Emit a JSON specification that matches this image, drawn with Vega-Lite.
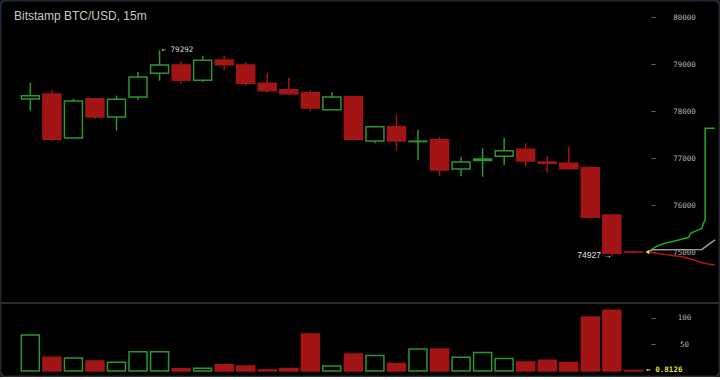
{
  "$schema": "https://vega.github.io/schema/vega-lite/v6.json",
  "width": 720,
  "height": 377,
  "autosize": {"type": "none"},
  "padding": 0,
  "background": "#000000",
  "config": {
    "view": {"stroke": "#232733", "strokeWidth": 3, "cornerRadius": 6, "fill": "#000000"}
  },
  "title": {
    "text": "Bitstamp BTC/USD, 15m",
    "anchor": "start",
    "frame": "group",
    "offset": -23,
    "dx": 14,
    "font": "Liberation Sans",
    "fontSize": 12,
    "fontWeight": "normal",
    "color": "#c8c8c8"
  },
  "datasets": {
    "candles": [
      {"i": 1, "o": 78255, "c": 78326, "h": 78602, "l": 78006, "v": 67.5},
      {"i": 2, "o": 78362, "c": 77398, "h": 78447, "l": 77380, "v": 25.7},
      {"i": 3, "o": 77426, "c": 78213, "h": 78262, "l": 77420, "v": 24.4},
      {"i": 4, "o": 78262, "c": 77872, "h": 78270, "l": 77823, "v": 18.8},
      {"i": 5, "o": 77872, "c": 78249, "h": 78326, "l": 77581, "v": 16.3},
      {"i": 6, "o": 78298, "c": 78723, "h": 78830, "l": 78240, "v": 36.2},
      {"i": 7, "o": 78802, "c": 78979, "h": 79292, "l": 78645, "v": 36.2},
      {"i": 8, "o": 78979, "c": 78653, "h": 79064, "l": 78581, "v": 3.8},
      {"i": 9, "o": 78653, "c": 79079, "h": 79170, "l": 78617, "v": 5.0},
      {"i": 10, "o": 79085, "c": 78985, "h": 79170, "l": 78866, "v": 11.3},
      {"i": 11, "o": 78979, "c": 78589, "h": 79043, "l": 78538, "v": 9.4},
      {"i": 12, "o": 78589, "c": 78432, "h": 78809, "l": 78389, "v": 1.9},
      {"i": 13, "o": 78453, "c": 78368, "h": 78709, "l": 78334, "v": 4.4},
      {"i": 14, "o": 78389, "c": 78064, "h": 78447, "l": 77994, "v": 69.4},
      {"i": 15, "o": 78028, "c": 78298, "h": 78404, "l": 78020, "v": 9.4},
      {"i": 16, "o": 78304, "c": 77398, "h": 78320, "l": 77390, "v": 31.9},
      {"i": 17, "o": 77362, "c": 77666, "h": 77680, "l": 77313, "v": 28.7},
      {"i": 18, "o": 77666, "c": 77362, "h": 77921, "l": 77155, "v": 13.7},
      {"i": 19, "o": 77350, "c": 77358, "h": 77596, "l": 76951, "v": 41.3},
      {"i": 20, "o": 77389, "c": 76745, "h": 77453, "l": 76617, "v": 41.3},
      {"i": 21, "o": 76766, "c": 76915, "h": 77021, "l": 76611, "v": 25.7},
      {"i": 22, "o": 76945, "c": 76980, "h": 77206, "l": 76602, "v": 34.4},
      {"i": 23, "o": 77036, "c": 77155, "h": 77426, "l": 76851, "v": 23.1},
      {"i": 24, "o": 77185, "c": 76936, "h": 77313, "l": 76815, "v": 16.9},
      {"i": 25, "o": 76915, "c": 76887, "h": 77049, "l": 76687, "v": 20.0},
      {"i": 26, "o": 76887, "c": 76772, "h": 77228, "l": 76760, "v": 15.6},
      {"i": 27, "o": 76794, "c": 75738, "h": 76830, "l": 75696, "v": 101.3},
      {"i": 28, "o": 75787, "c": 74972, "h": 75809, "l": 74927, "v": 113.8},
      {"i": 29, "o": 75000, "c": 74995, "h": 75028, "l": 74990, "v": 0.8126}
    ],
    "depth": [
      {"s": "bid", "k": 1, "i": 29.72, "p": 75000},
      {"s": "bid", "k": 2, "i": 29.81, "p": 75043},
      {"s": "bid", "k": 3, "i": 30.04, "p": 75113},
      {"s": "bid", "k": 4, "i": 30.35, "p": 75170},
      {"s": "bid", "k": 5, "i": 30.96, "p": 75240},
      {"s": "bid", "k": 6, "i": 31.57, "p": 75313},
      {"s": "bid", "k": 7, "i": 31.65, "p": 75398},
      {"s": "bid", "k": 8, "i": 32.18, "p": 75504},
      {"s": "bid", "k": 9, "i": 32.25, "p": 75611},
      {"s": "bid", "k": 10, "i": 32.33, "p": 75681},
      {"s": "bid", "k": 11, "i": 32.33, "p": 77632},
      {"s": "bid", "k": 12, "i": 32.79, "p": 77632},
      {"s": "mid", "k": 1, "i": 29.72, "p": 75000},
      {"s": "mid", "k": 2, "i": 29.9, "p": 75050},
      {"s": "mid", "k": 3, "i": 32.18, "p": 75055},
      {"s": "mid", "k": 4, "i": 32.79, "p": 75260},
      {"s": "ask", "k": 1, "i": 29.72, "p": 75000},
      {"s": "ask", "k": 2, "i": 30.04, "p": 74972},
      {"s": "ask", "k": 3, "i": 30.65, "p": 74936},
      {"s": "ask", "k": 4, "i": 31.26, "p": 74900},
      {"s": "ask", "k": 5, "i": 31.72, "p": 74845},
      {"s": "ask", "k": 6, "i": 32.18, "p": 74772},
      {"s": "ask", "k": 7, "i": 32.48, "p": 74745},
      {"s": "ask", "k": 8, "i": 32.79, "p": 74725}
    ],
    "hiNote": [{"i": 7, "p": 79292, "t": "← 79292"}],
    "loNote": [{"i": 28, "p": 74927, "t": "74927 →"}],
    "last": [{"i": 29.65, "p": 75000}],
    "volNote": [{"i": 29.6, "v": 0.8126, "t": "← 0.8126"}]
  },
  "resolve": {"scale": {"y": "independent"}, "axis": {"y": "independent"}},
  "layer": [
    {
      "layer": [
        {
          "data": {"name": "candles"},
          "mark": {"type": "rule", "strokeWidth": 1.5},
          "encoding": {
            "x": {"field": "i", "type": "quantitative",
              "scale": {"domain": [-0.177, 32.79], "nice": false, "zero": false},
              "axis": {"values": [2, 6, 10, 14, 18, 22, 26, 30], "labels": false, "title": null, "grid": false,
                "domainColor": "#3a3a3a", "domainWidth": 1.5, "tickColor": "#555555", "tickSize": 3}},
            "y": {"field": "l", "type": "quantitative",
              "scale": {"domain": [72341, 80362], "nice": false, "zero": false},
              "axis": {"orient": "right", "offset": -69, "values": [75000, 76000, 77000, 78000, 79000, 80000],
                "format": "d", "title": null, "grid": false, "domain": false,
                "tickColor": "#666666", "tickSize": 4, "labelAlign": "center", "labelPadding": 29,
                "labelFont": "DejaVu Sans Mono", "labelFontSize": 7.5, "labelColor": "#b0b0b0"}},
            "y2": {"field": "h"},
            "stroke": {"condition": {"test": "datum.c >= datum.o", "value": "#2e962e"}, "value": "#a31414"}
          }
        },
        {
          "data": {"name": "candles"},
          "mark": {"type": "bar", "size": 18, "strokeWidth": 1.5},
          "encoding": {
            "x": {"field": "i", "type": "quantitative"},
            "y": {"field": "o", "type": "quantitative"},
            "y2": {"field": "c"},
            "fill": {"condition": {"test": "datum.c >= datum.o", "value": "#000000"}, "value": "#a31414"},
            "stroke": {"condition": {"test": "datum.c >= datum.o", "value": "#2e962e"}, "value": "#a31414"}
          }
        },
        {
          "data": {"name": "depth"},
          "mark": {"type": "line", "strokeWidth": 1.5},
          "encoding": {
            "x": {"field": "i", "type": "quantitative"},
            "y": {"field": "p", "type": "quantitative"},
            "order": {"field": "k", "type": "quantitative"},
            "color": {"field": "s", "type": "nominal",
              "scale": {"domain": ["bid", "mid", "ask"], "range": ["#1fa81f", "#9a9a9a", "#b01818"]},
              "legend": null}
          }
        },
        {
          "data": {"name": "last"},
          "mark": {"type": "point", "shape": "triangle-left", "filled": true, "size": 20, "color": "#e8e83a", "opacity": 1},
          "encoding": {
            "x": {"field": "i", "type": "quantitative"},
            "y": {"field": "p", "type": "quantitative"}
          }
        },
        {
          "data": {"name": "hiNote"},
          "mark": {"type": "text", "align": "left", "baseline": "middle", "dx": 2, "font": "DejaVu Sans Mono", "fontSize": 7.5, "color": "#d8d8d8"},
          "encoding": {
            "x": {"field": "i", "type": "quantitative"},
            "y": {"field": "p", "type": "quantitative"},
            "text": {"field": "t"}
          }
        },
        {
          "data": {"name": "loNote"},
          "mark": {"type": "text", "align": "right", "baseline": "middle", "dx": 0, "font": "Liberation Sans", "fontSize": 8.5, "color": "#e0e0e0"},
          "encoding": {
            "x": {"field": "i", "type": "quantitative"},
            "y": {"field": "p", "type": "quantitative"},
            "text": {"field": "t"}
          }
        }
      ]
    },
    {
      "layer": [
        {
          "data": {"name": "candles"},
          "mark": {"type": "bar", "size": 18, "strokeWidth": 1.5},
          "encoding": {
            "x": {"field": "i", "type": "quantitative"},
            "y": {"field": "v", "type": "quantitative",
              "scale": {"domain": [-11.5, 697.2], "nice": false, "zero": false},
              "axis": {"orient": "right", "offset": -69, "values": [50, 100], "title": null, "grid": false, "domain": false,
                "tickColor": "#666666", "tickSize": 4, "labelAlign": "center", "labelPadding": 29,
                "labelFont": "DejaVu Sans Mono", "labelFontSize": 7.5, "labelColor": "#b0b0b0"}},
            "fill": {"condition": {"test": "datum.c >= datum.o", "value": "#000000"}, "value": "#a31414"},
            "stroke": {"condition": {"test": "datum.c >= datum.o", "value": "#2e962e"}, "value": "#a31414"}
          }
        },
        {
          "data": {"values": [{}]},
          "mark": {"type": "rule", "color": "#2b2b2b", "strokeWidth": 2},
          "encoding": {"y": {"datum": 127.6, "type": "quantitative"}}
        },
        {
          "data": {"name": "volNote"},
          "mark": {"type": "text", "align": "left", "baseline": "middle", "font": "DejaVu Sans Mono", "fontSize": 7.5, "fontWeight": "bold", "color": "#e0e040"},
          "encoding": {
            "x": {"field": "i", "type": "quantitative"},
            "y": {"field": "v", "type": "quantitative"},
            "text": {"field": "t"}
          }
        }
      ]
    }
  ]
}
